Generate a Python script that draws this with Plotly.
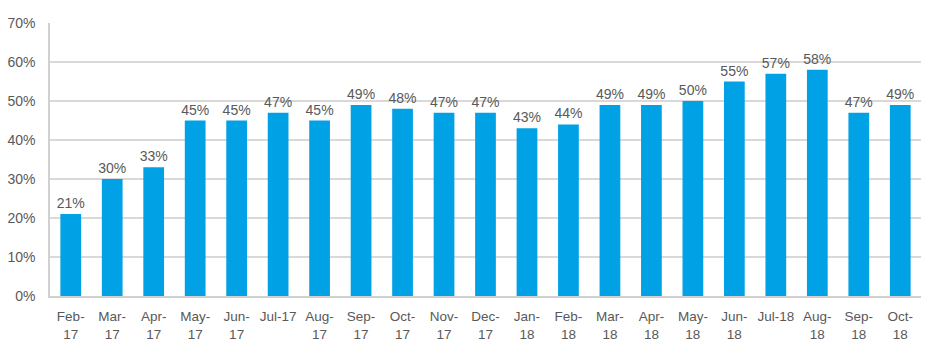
import plotly.graph_objects as go

months = ["Feb-17", "Mar-17", "Apr-17", "May-17", "Jun-17", "Jul-17", "Aug-17",
          "Sep-17", "Oct-17", "Nov-17", "Dec-17", "Jan-18", "Feb-18", "Mar-18",
          "Apr-18", "May-18", "Jun-18", "Jul-18", "Aug-18", "Sep-18", "Oct-18"]
tick_text = ["Feb-<br>17", "Mar-<br>17", "Apr-<br>17", "May-<br>17", "Jun-<br>17",
             "Jul-17", "Aug-<br>17", "Sep-<br>17", "Oct-<br>17", "Nov-<br>17",
             "Dec-<br>17", "Jan-<br>18", "Feb-<br>18", "Mar-<br>18", "Apr-<br>18",
             "May-<br>18", "Jun-<br>18", "Jul-18", "Aug-<br>18", "Sep-<br>18",
             "Oct-<br>18"]
share = [21, 30, 33, 45, 45, 47, 45, 49, 48, 47, 47, 43, 44, 49, 49, 50, 55, 57, 58, 47, 49]

text_color = "#595959"
font = "Liberation Sans, Arial, sans-serif"

fig = go.Figure(go.Bar(
    x=months,
    y=[v / 100 for v in share],
    text=[f"{v}%" for v in share],
    textposition="outside",
    constraintext="none",
    textfont=dict(family=font, size=14, color=text_color),
    cliponaxis=False,
    marker=dict(color="#00A2E5", line=dict(width=0)),
    width=0.5,
))

fig.update_layout(
    width=932, height=348,
    margin=dict(l=50, r=11, t=23, b=52),
    paper_bgcolor="white", plot_bgcolor="white",
    showlegend=False,
    font=dict(family=font, size=13, color=text_color),
    xaxis=dict(
        tickmode="array", tickvals=months, ticktext=tick_text,
        showgrid=False, showline=True, linecolor="#d0d0d0", linewidth=1.5,
        ticks="outside", ticklen=7, tickcolor="rgba(0,0,0,0)",
        tickfont=dict(size=13.5, color=text_color), automargin=False,
    ),
    yaxis=dict(
        range=[0, 0.7], dtick=0.1, tickformat=".0%",
        showgrid=True, gridcolor="#d9d9d9", gridwidth=1.5,
        showline=True, linecolor="#d0d0d0", linewidth=1.5,
        zeroline=False, ticks="", ticklabelstandoff=10,
        tickfont=dict(size=14, color=text_color), automargin=False,
    ),
)

fig.write_html("out.html")
